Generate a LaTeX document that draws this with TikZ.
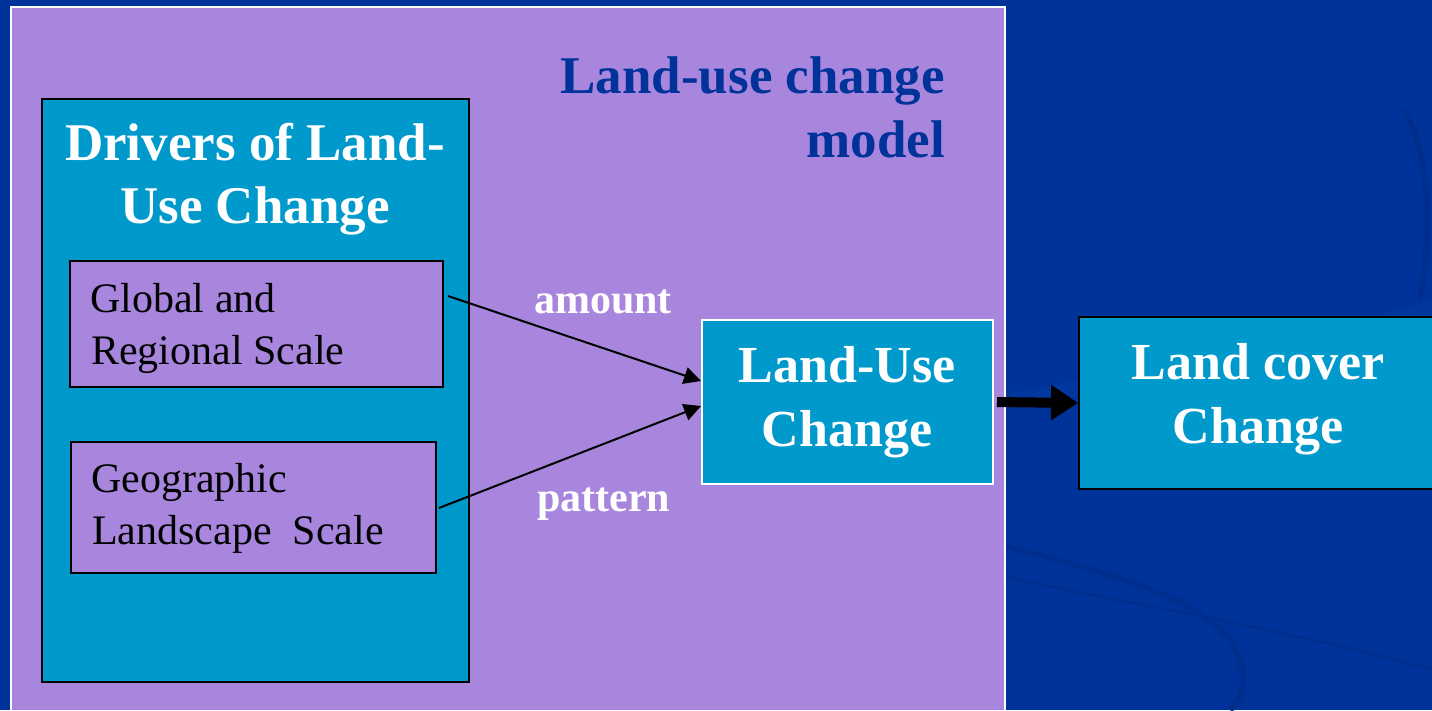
\documentclass[tikz,border=0pt]{standalone}
\usepackage{fontspec}
\setmainfont{Liberation Serif}
\usetikzlibrary{arrows.meta}
\definecolor{bgblue}{RGB}{0,51,153}
\definecolor{swoosh}{RGB}{0,46,142}
\definecolor{swooshlight}{RGB}{2,56,158}
\definecolor{purp}{RGB}{168,134,222}
\definecolor{cyanbox}{RGB}{0,153,204}
\definecolor{titleblue}{RGB}{0,51,153}
\tikzset{
  rbox/.style={rectangle, inner sep=0pt, anchor=north west},
  bigtext/.style={font=\fontsize{52}{64}\selectfont\bfseries, text=white, inner sep=0pt},
  drvtext/.style={font=\fontsize{53}{64}\selectfont\bfseries, text=white, inner sep=0pt},
  titletext/.style={font=\fontsize{53}{64}\selectfont\bfseries, text=titleblue, inner sep=0pt},
  smalltext/.style={font=\fontsize{42}{52}\selectfont, text=black, inner sep=0pt, anchor=base west},
  labeltext/.style={font=\fontsize{42}{52}\selectfont\bfseries, text=white, inner sep=0pt, anchor=base west},
  thinarrow/.style={draw=black, line width=2pt, -{Triangle[length=17pt,width=17pt]}},
  thickarrow/.style={draw=black, line width=10pt, -{Triangle[length=27pt,width=34pt]}}
}
\begin{document}
\begin{tikzpicture}[x=1pt,y=-1pt]
\useasboundingbox (0,0) rectangle (1432,710);
\clip (0,0) rectangle (1432,710);
% background
\fill[bgblue] (0,0) rectangle (1432,710);
\fill[swooshlight] (995,395) .. controls (1150,370) and (1300,340) .. (1432,300) -- (1432,318) .. controls (1300,355) and (1150,385) .. (995,410) -- cycle;
\draw[swoosh, line width=6pt] (1000,545) .. controls (1120,575) and (1200,600) .. (1230,640) .. controls (1250,670) and (1245,695) .. (1230,710);
\draw[swoosh, line width=3pt] (1000,575) .. controls (1100,600) and (1250,620) .. (1432,670);
\draw[swoosh, line width=6pt] (1405,110) .. controls (1430,160) and (1432,230) .. (1420,300);
% main purple panel
\node[rbox, draw=white, line width=2pt, fill=purp, minimum width=994pt, minimum height=704pt] (model) at (10,6) {};
\node[titletext, anchor=base east] (t1) at (945,93) {Land-use change};
\node[titletext, anchor=base east] (t2) at (945,157) {model};
% drivers box
\node[rbox, draw=black, line width=2.2pt, fill=cyanbox, minimum width=427pt, minimum height=583pt] (drivers) at (41,98) {};
\node[drvtext, anchor=base] (d1) at (255,160) {Drivers of Land-};
\node[drvtext, anchor=base] (d2) at (255,223) {Use Change};
\node[rbox, draw=black, line width=2pt, fill=purp, minimum width=373pt, minimum height=126pt] (glob) at (69,260) {};
\node[smalltext] (g1) at (90,312) {Global and};
\node[smalltext] (g2) at (91,364) {Regional Scale};
\node[rbox, draw=black, line width=2pt, fill=purp, minimum width=365pt, minimum height=131pt] (geo) at (70,441) {};
\node[smalltext] (h1) at (91,492) {Geographic};
\node[smalltext] (h2) at (92,544) {Landscape\ \ Scale};
% land-use change
\node[rbox, draw=white, line width=2pt, fill=cyanbox, minimum width=291pt, minimum height=164pt] (luc) at (701,319) {};
\node[bigtext, anchor=base] (u1) at (847,382) {Land-Use};
\node[bigtext, anchor=base] (u2) at (847,446) {Change};
% land cover change
\node[rbox, draw=black, line width=2pt, fill=cyanbox, minimum width=380pt, minimum height=172pt] (lcc) at (1078,316) {};
\node[bigtext, anchor=base] (c1) at (1258,379) {Land cover};
\node[bigtext, anchor=base] (c2) at (1258,443) {Change};
% labels
\node[labeltext] (lamount) at (534,313) {amount};
\node[labeltext] (lpattern) at (537,511) {pattern};
% connectors
\coordinate (s1) at ([xshift=4pt,yshift=28pt]glob.east);
\coordinate (s2) at ([xshift=2pt,yshift=-0.5pt]geo.east);
\draw[thinarrow] (s1) -- ([yshift=21pt]luc.west);
\draw[thinarrow] (s2) -- ([yshift=-4pt]luc.west);
\draw[thickarrow, shorten <=3pt] (luc.east) -- (lcc.west);
\end{tikzpicture}
\end{document}
